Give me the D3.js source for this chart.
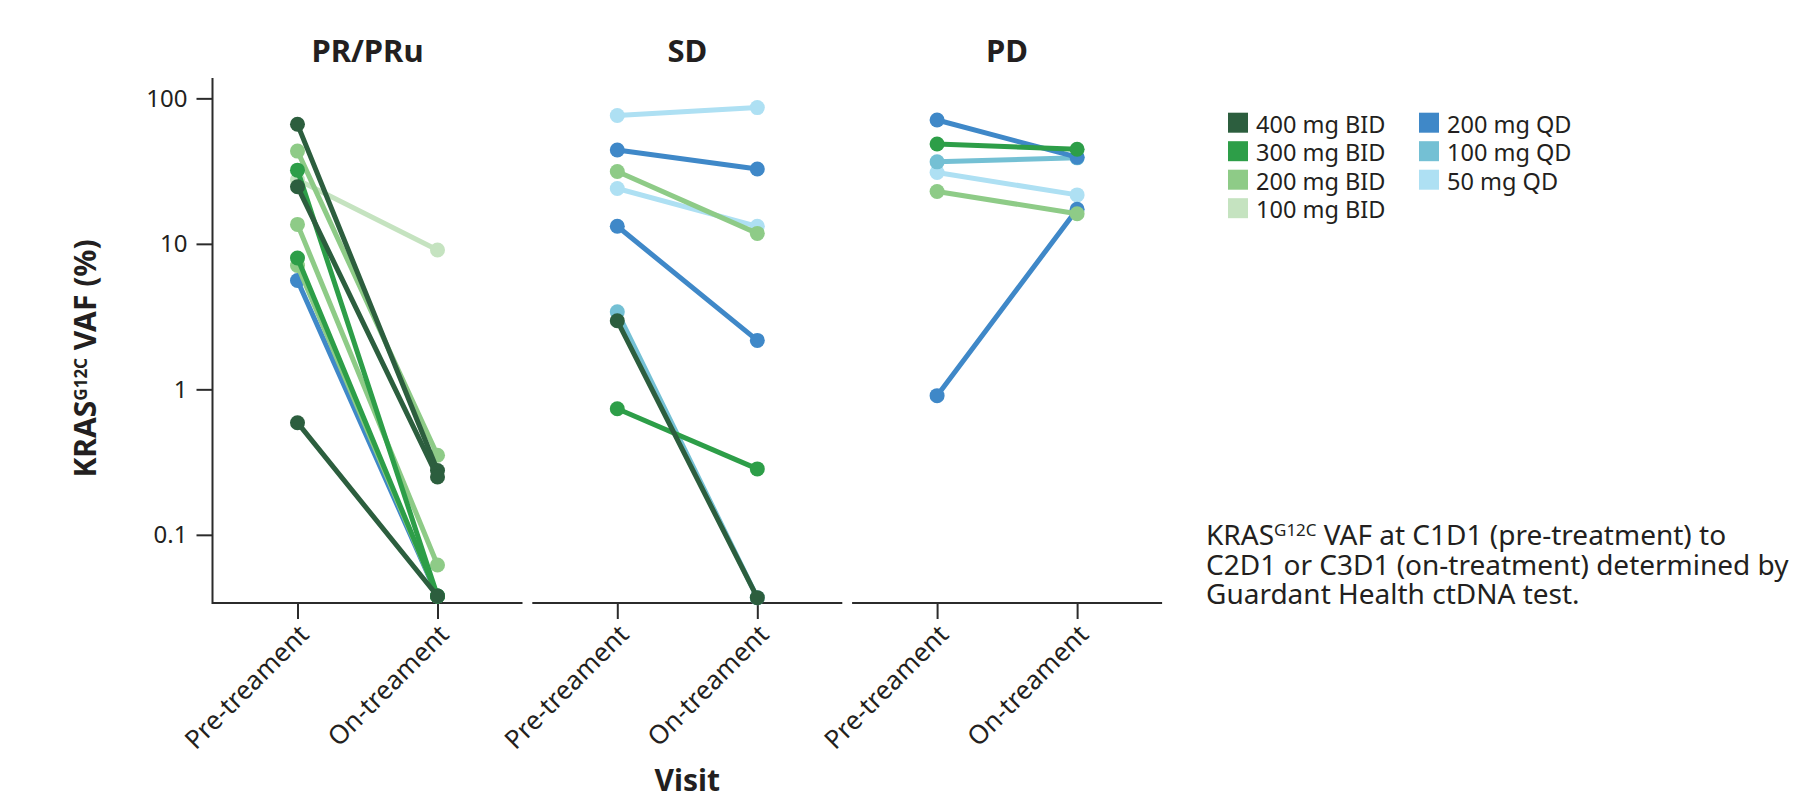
<!DOCTYPE html>
<html><head><meta charset="utf-8">
<script src="https://cdn.jsdelivr.net/npm/d3@7"></script>
<style>
body{margin:0;background:#fff;}
svg{display:block;font-family:"Noto Sans",sans-serif;}
</style>
</head><body>
<svg id="chart" width="1813" height="799"></svg>
<script>
// ---------------- data ----------------
const panels = ["PR/PRu", "SD", "PD"];
const visits = ["Pre-treament", "On-treament"];
const doses = ["400 mg BID", "300 mg BID", "200 mg BID", "100 mg BID", "200 mg QD", "100 mg QD", "50 mg QD"];
const doseColors = ["#2c5e3e", "#2d9e48", "#8ecb87", "#c5e3c0", "#3f88c8", "#74c0d4", "#aee0f3"];
const yTicks = [0.1, 1, 10, 100];
const yTickLabels = ["0.1", "1", "10", "100"];

// one entry per patient (draw order)
const patientPanel = [
  "PR/PRu","PR/PRu","PR/PRu","PR/PRu","PR/PRu","PR/PRu","PR/PRu","PR/PRu","PR/PRu","PR/PRu",
  "SD","SD","SD","SD","SD","SD","SD","SD",
  "PD","PD","PD","PD","PD","PD"
];
const patientDose = [
  "200 mg QD","100 mg BID","200 mg BID","200 mg BID","200 mg BID","300 mg BID","300 mg BID","400 mg BID","400 mg BID","400 mg BID",
  "50 mg QD","50 mg QD","100 mg QD","200 mg QD","200 mg QD","200 mg BID","300 mg BID","400 mg BID",
  "50 mg QD","100 mg QD","200 mg QD","200 mg QD","200 mg BID","300 mg BID"
];
const preVAF = [
  5.6, 27.6, 43.4, 13.6, 7.1, 32.1, 8.0, 66.3, 24.7, 0.59,
  76.2, 24.0, 3.41, 44.2, 13.2, 31.4, 0.735, 2.96,
  30.9, 36.6, 71.0, 0.905, 22.9, 48.6
];
const onVAF = [
  0.038, 9.08, 0.352, 0.062, 0.038, 0.038, 0.038, 0.277, 0.25, 0.038,
  86.4, 13.2, 0.037, 32.7, 2.17, 11.8, 0.284, 0.037,
  21.7, 39.0, 39.4, 17.3, 16.1, 44.7
];

// ---------------- layout ----------------
const svg = d3.select("#chart");
const textColor = "#231f20";
const axisColor = "#2b2b2b";
const plotTop = 78, plotBottom = 603;
const panelLeft0 = 212.5, panelStep = 319.8, panelWidth = 310;

const y = d3.scaleLog().domain([0.034, 138]).range([plotBottom, plotTop]);
const color = d3.scaleOrdinal().domain(doses).range(doseColors);

const xScales = panels.map((p, i) =>
  d3.scalePoint().domain(visits)
    .range([panelLeft0 + i * panelStep, panelLeft0 + i * panelStep + panelWidth])
    .padding(0.607)
);
const panelIndex = p => panels.indexOf(p);

// y axis
const yAxis = d3.axisLeft(y).tickValues(yTicks).tickFormat((d, i) => yTickLabels[i])
  .tickSize(16).tickPadding(9);
const gy = svg.append("g").attr("transform", `translate(${panelLeft0},0)`).call(yAxis);
gy.select(".domain").remove();
gy.append("line").attr("x1", 0).attr("x2", 0).attr("y1", plotTop).attr("y2", plotBottom + 1)
  .attr("stroke", axisColor).attr("stroke-width", 2);
gy.selectAll(".tick line").attr("stroke", axisColor).attr("stroke-width", 2);
gy.selectAll(".tick text").attr("fill", textColor).style("font-size", "24px")
  .style("font-family", "'Noto Sans', sans-serif");

// x axes per panel
panels.forEach((p, i) => {
  const xs = xScales[i];
  const g = svg.append("g").attr("transform", `translate(0,${plotBottom})`)
    .call(d3.axisBottom(xs).tickSize(16).tickFormat(""));
  g.select(".domain").remove();
  const [r0, r1] = xs.range();
  g.append("line").attr("x1", r0).attr("x2", r1).attr("y1", 0).attr("y2", 0)
    .attr("stroke", axisColor).attr("stroke-width", 2);
  g.selectAll(".tick line").attr("stroke", axisColor).attr("stroke-width", 2);
  // rotated labels
  visits.forEach(v => {
    svg.append("text")
      .attr("transform", `translate(${xs(v) + 13},${plotBottom + 33}) rotate(-45)`)
      .attr("text-anchor", "end")
      .attr("fill", textColor)
      .style("font-size", "26px")
      .text(v);
  });
  // panel title
  svg.append("text")
    .attr("x", (r0 + r1) / 2).attr("y", 62)
    .attr("text-anchor", "middle")
    .attr("fill", textColor)
    .style("font-size", "31px").style("font-weight", "bold")
    .text(p);
});

// lines & points
const marks = svg.append("g");
preVAF.forEach((pre, k) => {
  const xs = xScales[panelIndex(patientPanel[k])];
  const c = color(patientDose[k]);
  const pts = [[xs(visits[0]), y(pre)], [xs(visits[1]), y(onVAF[k])]];
  const g = marks.append("g");
  g.append("path").attr("d", d3.line()(pts)).attr("stroke", c).attr("stroke-width", 5)
    .attr("fill", "none").attr("stroke-linecap", "round");
  g.selectAll("circle").data(pts).join("circle")
    .attr("cx", d => d[0]).attr("cy", d => d[1]).attr("r", 7.5).attr("fill", c);
});

// y label
const yl = svg.append("text")
  .attr("transform", `translate(96,${(plotTop + plotBottom) / 2 + 18}) rotate(-90)`)
  .attr("text-anchor", "middle")
  .attr("fill", textColor)
  .style("font-size", "30px").style("font-weight", "bold");
yl.append("tspan").text("KRAS");
yl.append("tspan").attr("dy", "-9").style("font-size", "17px").text("G12C");
yl.append("tspan").attr("dy", "9").text(" VAF (%)");

// x label
svg.append("text")
  .attr("x", panelLeft0 + panelStep + panelWidth / 2).attr("y", 791)
  .attr("text-anchor", "middle")
  .attr("fill", textColor)
  .style("font-size", "30px").style("font-weight", "bold")
  .text("Visit");

// legend
const legCols = [1228, 1419];
const legTop = 112.7, legStep = 28.5;
doses.forEach((d, i) => {
  const col = i < 4 ? 0 : 1;
  const row = i < 4 ? i : i - 4;
  const gx = legCols[col], gyy = legTop + row * legStep;
  svg.append("rect").attr("x", gx).attr("y", gyy).attr("width", 20).attr("height", 20)
    .attr("fill", color(d));
  svg.append("text").attr("x", gx + 28).attr("y", gyy + 20)
    .attr("fill", textColor).style("font-size", "23.5px").text(d);
});

// annotation
const annX = 1206;
const l1 = svg.append("text").attr("x", annX).attr("y", 545)
  .attr("fill", textColor).style("font-size", "28px");
l1.append("tspan").text("KRAS");
l1.append("tspan").attr("dy", "-9").style("font-size", "17px").text("G12C");
l1.append("tspan").attr("dy", "9").text(" VAF at C1D1 (pre-treatment) to");
svg.append("text").attr("x", annX).attr("y", 574.5)
  .attr("fill", textColor).style("font-size", "28px")
  .text("C2D1 or C3D1 (on-treatment) determined by");
svg.append("text").attr("x", annX).attr("y", 604)
  .attr("fill", textColor).style("font-size", "28px")
  .text("Guardant Health ctDNA test.");
</script>
</body></html>
